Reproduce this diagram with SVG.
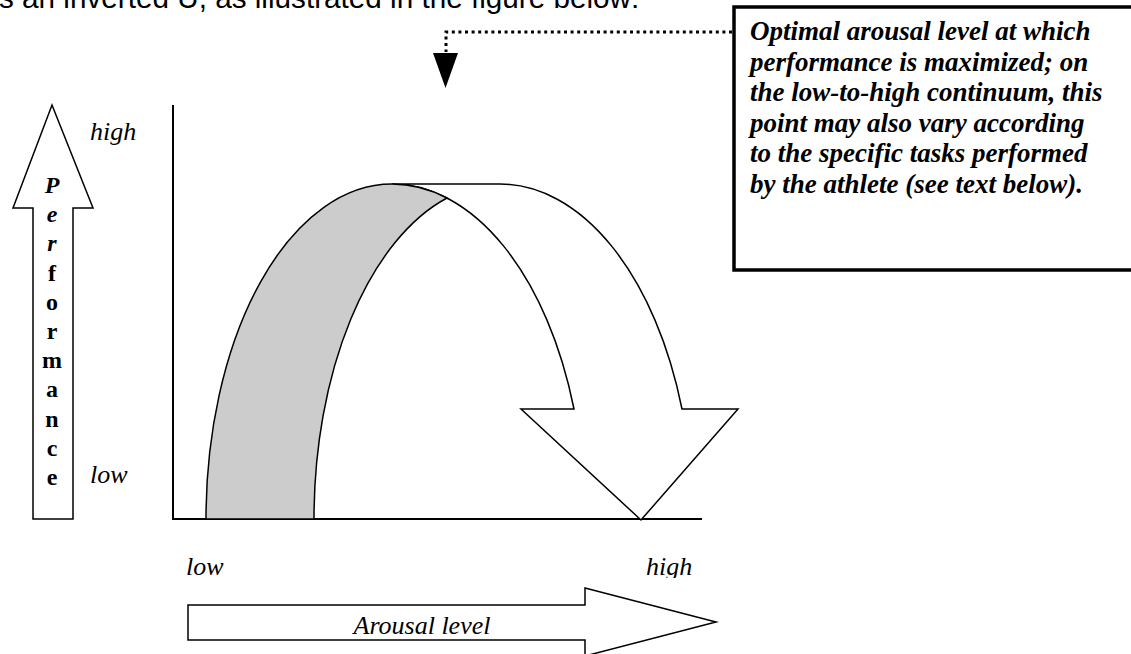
<svg xmlns="http://www.w3.org/2000/svg" width="1131" height="654" viewBox="0 0 1131 654">
  <style>
    .shape { fill: #ffffff; stroke: #000000; stroke-width: 1.5; stroke-linejoin: miter; }
    .axis { fill: none; stroke: #000000; stroke-width: 2; }
    .label { font-family: "Liberation Serif", "Times New Roman", serif; font-style: italic; font-size: 26px; fill: #000000; }
    .vert { font-family: "Liberation Serif", "Times New Roman", serif; font-weight: bold; font-size: 24px; fill: #000000; text-anchor: middle; }
    .note { font-family: "Liberation Serif", "Times New Roman", serif; font-weight: bold; font-style: italic; font-size: 27px; fill: #000000; }
    .body { font-family: "Liberation Sans", Arial, sans-serif; font-size: 29.7px; fill: #000000; }
    .dots { fill: none; stroke: #000000; stroke-width: 3; stroke-dasharray: 3 3.6; }
  </style>
  <defs>
    <clipPath id="clipHigh">
      <rect x="600" y="540" width="140" height="38"/>
    </clipPath>
  </defs>

  <rect x="0" y="0" width="1131" height="654" fill="#ffffff"/>

  <!-- running text line above the figure -->
  <text class="body" x="-1" y="8">s an inverted U, as illustrated in the figure below:</text>

  <!-- performance axis arrow -->
  <g id="performance-arrow">
    <polygon class="shape" points="52,105 93,208 73,208 73,519 33,519 33,208 13,208"/>
    <text class="vert" x="52" y="193" font-style="italic">P</text>
    <text class="vert" x="52" y="222" font-style="italic">e</text>
    <text class="vert" x="52" y="251" font-style="italic">r</text>
    <text class="vert" x="52" y="281">f</text>
    <text class="vert" x="52" y="310">o</text>
    <text class="vert" x="52" y="339">r</text>
    <text class="vert" x="52" y="368">m</text>
    <text class="vert" x="52" y="397">a</text>
    <text class="vert" x="52" y="427">n</text>
    <text class="vert" x="52" y="456">c</text>
    <text class="vert" x="52" y="485">e</text>
  </g>

  <g id="performance-labels">
    <text class="label" x="90" y="140">high</text>
    <text class="label" x="90" y="483">low</text>
  </g>

  <!-- chart axes -->
  <g id="axes">
    <polyline class="axis" points="173,105 173,519 702,519"/>
  </g>

  <!-- inverted-U curved arrow -->
  <g id="curve-arrow">
    <path class="shape" d="M392,184 L500,184 A193,335 0 0 1 682,409 L738,409 L641,520 L521,409 L574,409 A193,335 0 0 0 392,184 Z"/>
    <path class="shape" style="fill:#cccccc" d="M206,519 A186,335 0 0 1 392,184 A193,335 0 0 1 447,198 A186,335 0 0 0 314,519 Z"/>
  </g>

  <g id="arousal-labels">
    <text class="label" x="186" y="575">low</text>
    <text class="label" x="646" y="575" clip-path="url(#clipHigh)">high</text>
  </g>

  <!-- arousal axis arrow -->
  <g id="arousal-arrow">
    <polygon class="shape" points="188,605 585,605 585,588 716,622 585,656 585,640 188,640"/>
    <text class="label" x="422" y="634" text-anchor="middle">Arousal level</text>
  </g>

  <!-- callout box -->
  <g id="callout">
    <rect x="734" y="7" width="420" height="263" fill="#ffffff" stroke="#000000" stroke-width="3.5"/>
    <text class="note" x="750" y="40">Optimal arousal level at which</text>
    <text class="note" x="750" y="70.5">performance is maximized; on</text>
    <text class="note" x="750" y="101">the low-to-high continuum, this</text>
    <text class="note" x="750" y="131.5">point may also vary according</text>
    <text class="note" x="750" y="162">to the specific tasks performed</text>
    <text class="note" x="750" y="192.5">by the athlete (see text below).</text>
  </g>

  <!-- dotted pointer from the callout to the optimum -->
  <g id="connectors">
    <polyline class="dots" points="732,32 446,32 446,52"/>
    <polygon points="433,53 458,53 445.5,88" fill="#000000"/>
  </g>
</svg>
